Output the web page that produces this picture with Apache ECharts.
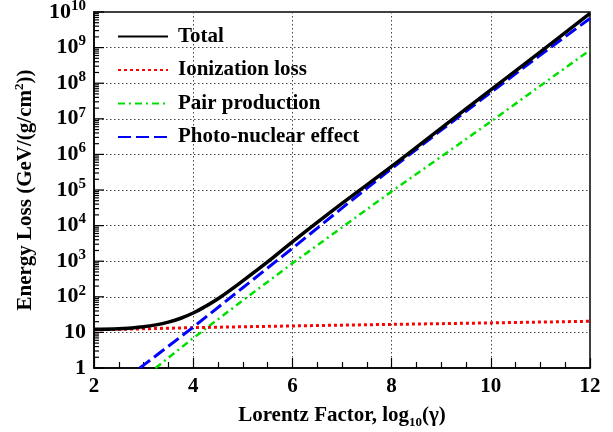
<!DOCTYPE html>
<html><head><meta charset="utf-8">
<script src="https://cdn.jsdelivr.net/npm/echarts@6/dist/echarts.min.js"></script>
<style>html,body{margin:0;padding:0;background:#fff}#c{width:613px;height:432px}</style>
</head><body><div id="c"></div>
<script>
// ---- data ----
const xTotal = [2, 2.5, 3, 3.25, 3.5, 3.75, 4, 4.25, 4.5, 5, 5.5, 6, 7, 8, 9, 10, 11, 12];
const yTotal = [12.2, 12.6, 14.5, 16.3, 19.5, 25, 35, 54, 88, 280, 950, 3500, 4.2e4, 4.6e5, 5.5e6, 6.5e7, 7.6e8, 9.2e9];

const xIon = [2, 3, 4, 5, 6, 7, 8, 9, 10, 11, 12];
const yIon = [11.8, 12.6, 13.6, 14.4, 15.2, 16, 16.8, 17.6, 18.5, 19.5, 20.5];

const xPair = [3.24, 4, 5, 6, 7, 8, 9, 10, 11, 12];
const yPair = [1, 6.9, 79, 870, 8900, 9.1e4, 8.7e5, 8.3e6, 8.5e7, 8.5e8];

const xPhoto = [2.92, 3, 4, 5, 6, 7, 8, 9, 10, 11, 12];
const yPhoto = [1, 1.2, 14, 180, 2300, 3.1e4, 4.0e5, 4.8e6, 5.5e7, 6.2e8, 6.6e9];

const seriesNames = ['Total', 'Ionization loss', 'Pair production', 'Photo-nuclear effect'];
const xTickLabels = ['2', '4', '6', '8', '10', '12'];
const yTickLabels = ['1', '10', '10{sup|2}', '10{sup|3}', '10{sup|4}', '10{sup|5}', '10{sup|6}', '10{sup|7}', '10{sup|8}', '10{sup|9}', '10{sup|10}'];

// ---- build ----
const zip = (xs, ys) => xs.map((x, i) => [x, ys[i]]);
const FONT = 'Liberation Serif';
const minorY = [];
for (let k = 0; k < 10; k++) for (let m = 2; m <= 9; m++) minorY.push([2, m * Math.pow(10, k), 0]);
const majorY = [];
for (let k = 0; k <= 10; k++) majorY.push([2, Math.pow(10, k), 1]);

const chart = echarts.init(document.getElementById('c'), null, {renderer: 'canvas'});
chart.setOption({
  animation: false,
  backgroundColor: '#fff',
  grid: {left: 94, right: 23, top: 12, bottom: 64, containLabel: false, outerBoundsMode: 'none',
    show: true, borderColor: '#000', borderWidth: 1.5, backgroundColor: 'transparent'},
  legend: {
    orient: 'vertical', left: 112, top: 21, itemWidth: 50, itemHeight: 14, itemGap: 12.5,
    data: seriesNames,
    itemStyle: {opacity: 0},
    textStyle: {fontFamily: FONT, fontWeight: 'bold', fontSize: 21, color: '#000', lineHeight: 21, padding: [0, 0, 0, 5]}
  },
  xAxis: {
    type: 'value', min: 2, max: 12, interval: 2,
    name: 'Lorentz Factor, log{sub|10}(γ)', nameLocation: 'middle', nameGap: 34,
    nameTextStyle: {fontFamily: FONT, fontWeight: 'bold', fontSize: 21, color: '#000',
      rich: {sub: {fontFamily: FONT, fontWeight: 'bold', fontSize: 13, color: '#000', verticalAlign: 'top', padding: [14, 0, 0, 0]}}},
    axisLine: {show: true, onZero: false, lineStyle: {color: '#000', width: 1.5}},
    axisTick: {show: true, inside: true, length: 10, lineStyle: {color: '#000', width: 1.2}},
    minorTick: {show: true, splitNumber: 4, length: 6, lineStyle: {color: '#000', width: 1.2}},
    splitLine: {show: true, lineStyle: {color: '#444', type: [1.5, 2.5], width: 1}},
    axisLabel: {fontFamily: FONT, fontWeight: 'bold', fontSize: 21, color: '#000', margin: 8,
      formatter: v => xTickLabels[Math.round((v - 2) / 2)]}
  },
  yAxis: {
    type: 'log', min: 1, max: 1e10, logBase: 10, interval: 1, splitNumber: 10,
    name: 'Energy Loss (GeV/(g/cm{sup|2}))', nameLocation: 'middle', nameGap: 56,
    nameTextStyle: {fontFamily: FONT, fontWeight: 'bold', fontSize: 21, color: '#000',
      rich: {sup: {fontFamily: FONT, fontWeight: 'bold', fontSize: 13, color: '#000', verticalAlign: 'bottom', padding: [0, 0, 12, 0]}}},
    axisLine: {show: true, onZero: false, lineStyle: {color: '#000', width: 1.5}},
    axisTick: {show: false},
    splitLine: {show: true, lineStyle: {color: '#444', type: [1.5, 2.5], width: 1}},
    axisLabel: {fontFamily: FONT, fontWeight: 'bold', fontSize: 22, color: '#000', margin: 8,
      formatter: v => yTickLabels[Math.round(Math.log10(v))],
      rich: {sup: {fontFamily: FONT, fontWeight: 'bold', fontSize: 15, color: '#000', verticalAlign: 'bottom', padding: [0, 0, 12, 0]}}}
  },
  series: [
    {name: 'Total', type: 'line', data: zip(xTotal, yTotal), smooth: 0.4, showSymbol: false, symbol: 'none',
      lineStyle: {color: '#000', width: 3.5, type: 'solid'}, itemStyle: {color: '#000'}, z: 5},
    {name: 'Ionization loss', type: 'line', data: zip(xIon, yIon), showSymbol: false, symbol: 'none',
      lineStyle: {color: '#ff0000', width: 3, type: [3, 3]}, itemStyle: {color: '#ff0000'}, z: 4},
    {name: 'Pair production', type: 'line', data: zip(xPair, yPair), showSymbol: false, symbol: 'none',
      lineStyle: {color: '#00e000', width: 2.5, type: [7, 4, 2, 4]}, itemStyle: {color: '#00e000'}, z: 3},
    {name: 'Photo-nuclear effect', type: 'line', data: zip(xPhoto, yPhoto), showSymbol: false, symbol: 'none',
      lineStyle: {color: '#0000ff', width: 3, type: [13, 5]}, itemStyle: {color: '#0000ff'}, z: 4},
    {type: 'custom', silent: true, data: minorY.concat(majorY), z: 6,
      renderItem: (params, api) => {
        const p = api.coord([api.value(0), api.value(1)]);
        const len = api.value(2) === 1 ? 10 : 5;
        return {type: 'line', shape: {x1: p[0], y1: p[1], x2: p[0] + len, y2: p[1]}, style: {stroke: '#000', lineWidth: 1.2}};
      }}
  ]
});
</script></body></html>
